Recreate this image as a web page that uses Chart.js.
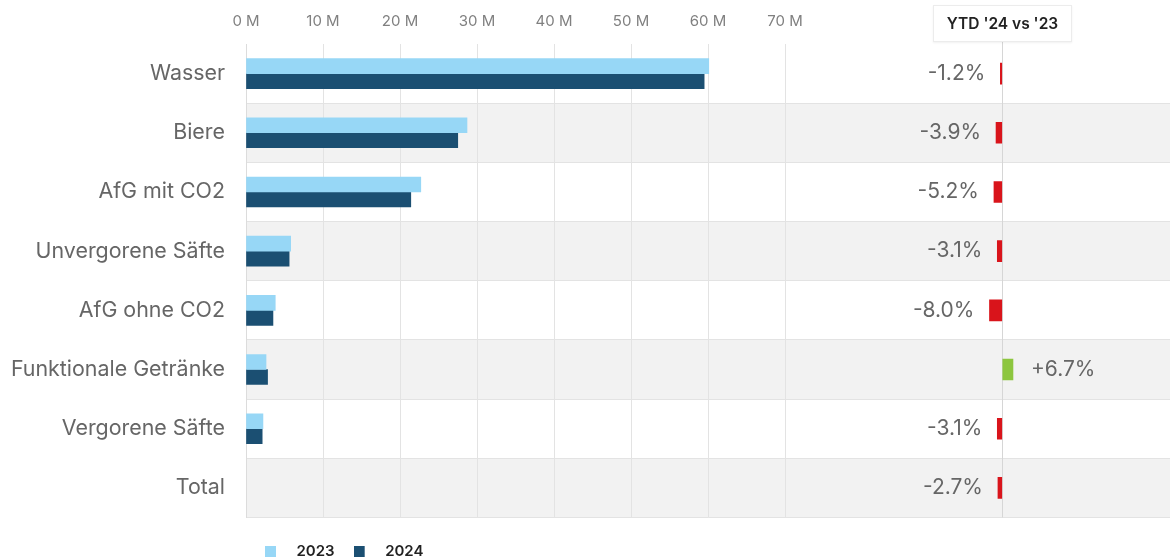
<!DOCTYPE html>
<html>
<head>
<meta charset="utf-8">
<script src="https://cdn.jsdelivr.net/npm/chart.js@4/dist/chart.umd.min.js"></script>
<style>
    html, body { margin: 0; padding: 0; background: #fff; }
    #wrap { position: relative; width: 1170px; height: 559px; overflow: hidden; }
    #ytdHead {
        position: absolute; left: 933px; top: 5px; width: 137px; height: 35px;
        background: #fff; border: 1px solid #ececec; box-shadow: 0 1px 2px rgba(0,0,0,.06);
        font: 600 15.5px Inter, sans-serif; color: #222; line-height: 35px; text-align: center;
    }
</style>
</head>
<body>
<div id="wrap">
    <canvas id="chartGetraenke" width="1170" height="559"></canvas>
    <div id="ytdHead">YTD '24 vs '23</div>
</div>
<script>
// ---- Data (volumes in millions) ----
const categories = ["Wasser", "Biere", "AfG mit CO2", "Unvergorene Säfte", "AfG ohne CO2", "Funktionale Getränke", "Vergorene Säfte", "Total"];
const vol2023 = [60.1, 28.7, 22.7, 5.8, 3.8, 2.6, 2.2, null];
const vol2024 = [59.5, 27.5, 21.4, 5.6, 3.5, 2.8, 2.1, null];
const ytdChange = [-1.2, -3.9, -5.2, -3.1, -8.0, 6.7, -3.1, -2.7];
const volTicks = [0, 10, 20, 30, 40, 50, 60, 70];

const COLORS = {
    y2023: "#97d7f6",
    y2024: "#1b4f72",
    down: "#d9141b",
    up: "#8dc63f",
    band: "#f2f2f2",
    grid: "#e3e3e3",
    text: "#666",
};

// legend marker: 11px square on the left of a wider transparent canvas
function legendMarker(color) {
    const c = document.createElement("canvas");
    c.width = 24;
    c.height = 11;
    const g = c.getContext("2d");
    g.fillStyle = color;
    g.fillRect(0, 0, 11, 11);
    return c;
}

// alternating grey row bands behind the bars
const rowBands = {
    id: "rowBands",
    beforeDraw(chart) {
        const { ctx, chartArea, scales } = chart;
        const ys = scales.y;
        const rowH = ys.height / categories.length;
        ctx.save();
        ctx.fillStyle = COLORS.band;
        categories.forEach((_, i) => {
            if (i % 2 === 0) return;
            ctx.fillRect(chartArea.left, ys.getPixelForValue(i) - rowH / 2, chartArea.right - chartArea.left, rowH);
        });
        ctx.restore();
    },
};

// percent labels beside the change bars
const changeLabels = {
    id: "changeLabels",
    afterDatasetsDraw(chart) {
        const meta = chart.getDatasetMeta(2);
        const { ctx } = chart;
        ctx.save();
        ctx.font = "21px Inter, sans-serif";
        ctx.fillStyle = COLORS.text;
        ctx.textBaseline = "middle";
        meta.data.forEach((bar, i) => {
            const v = ytdChange[i];
            const txt = (v > 0 ? "+" : "") + v.toFixed(1) + "%";
            if (v < 0) {
                ctx.textAlign = "right";
                ctx.fillText(txt, Math.min(bar.x, bar.base) - 15, bar.y);
            } else {
                ctx.textAlign = "left";
                ctx.fillText(txt, Math.max(bar.x, bar.base) + 18, bar.y);
            }
        });
        ctx.restore();
    },
};

const noSidePadding = (s) => {
    s.height = 44;
    s.paddingLeft = 0;
    s.paddingRight = 0;
};

new Chart(document.getElementById("chartGetraenke"), {
    type: "bar",
    data: {
        labels: categories,
        datasets: [
            { label: "2023", data: vol2023, backgroundColor: COLORS.y2023, pointStyle: legendMarker(COLORS.y2023), xAxisID: "x", barThickness: 15 },
            { label: "2024", data: vol2024, backgroundColor: COLORS.y2024, pointStyle: legendMarker(COLORS.y2024), xAxisID: "x", barThickness: 15 },
            {
                label: "YTD",
                data: ytdChange,
                xAxisID: "xp",
                grouped: false,
                barThickness: 21,
                backgroundColor: ytdChange.map((v) => (v < 0 ? COLORS.down : COLORS.up)),
            },
        ],
    },
    options: {
        indexAxis: "y",
        responsive: false,
        animation: false,
        layout: { padding: { top: 0, right: 0, bottom: -10, left: 0 } },
        plugins: {
            legend: {
                position: "bottom",
                align: "start",
                fullSize: false,
                title: { display: true, text: " ", padding: 0, font: { size: 6, lineHeight: 1.25 } },
                labels: {
                    usePointStyle: true,
                    pointStyleWidth: 24,
                    boxHeight: 11,
                    padding: 19,
                    color: "#222",
                    font: { family: "Inter, sans-serif", size: 15, weight: "600" },
                    filter: (item) => item.datasetIndex < 2,
                },
            },
            tooltip: { enabled: false },
        },
        scales: {
            y: {
                grid: {
                    color: (c) => (c.index === 0 ? "transparent" : c.index === categories.length ? "#d4d4d4" : COLORS.grid),
                    drawTicks: false,
                },
                border: { color: "#dcdcdc" },
                ticks: { color: COLORS.text, padding: 21, font: { family: "Inter, sans-serif", size: 21.4 } },
                afterFit: (s) => { s.width = 246; },
            },
            xp: {
                position: "top",
                stack: "top",
                stackWeight: 385,
                min: -136,
                max: 105,
                grid: {
                    color: (c) => (c.tick && c.tick.value === 0 ? "#d6d6d6" : "transparent"),
                    tickLength: 4,
                },
                border: { display: false },
                ticks: { display: false },
                afterFit: noSidePadding,
            },
            x: {
                position: "top",
                stack: "top",
                stackWeight: 539,
                min: 0,
                max: 70,
                afterBuildTicks: (s) => { s.ticks = volTicks.map((v) => ({ value: v })); },
                grid: { color: COLORS.grid, drawTicks: false },
                border: { display: false },
                ticks: {
                    color: "#808080",
                    padding: 14,
                    font: { family: "Inter, sans-serif", size: 15 },
                    callback: (v) => v + " M",
                },
                afterFit: noSidePadding,
            },
        },
    },
    plugins: [rowBands, changeLabels],
});
</script>
</body>
</html>
